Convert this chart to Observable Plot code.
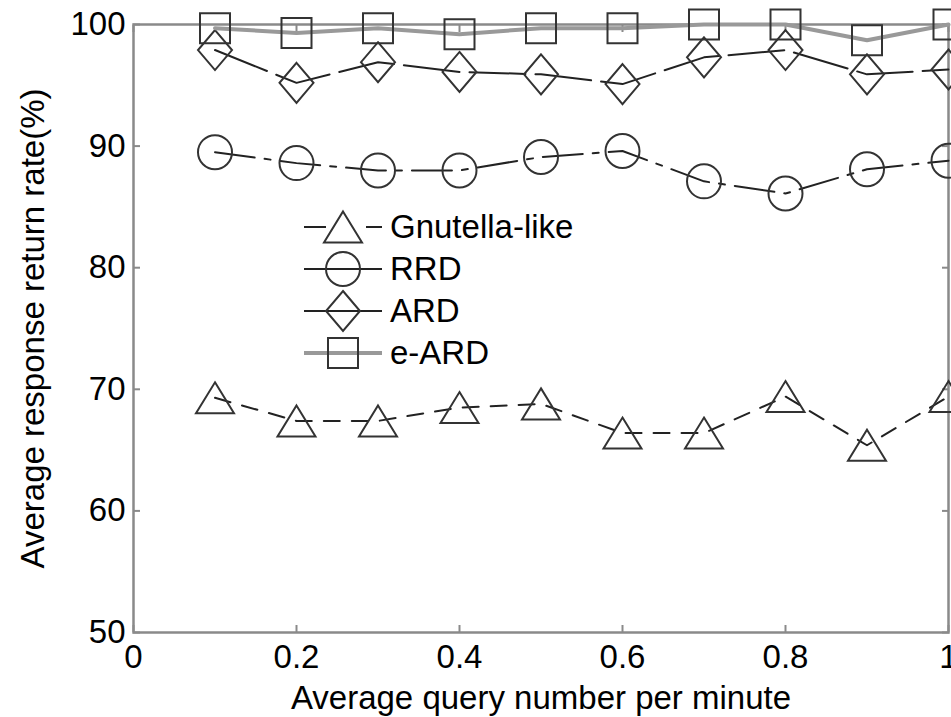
<!DOCTYPE html>
<html><head><meta charset="utf-8">
<script src="https://cdn.jsdelivr.net/npm/d3@7"></script>
<script src="https://cdn.jsdelivr.net/npm/@observablehq/plot@0.6"></script>
<style>
body{margin:0;background:#fff;}
#wrap{position:relative;width:951px;height:717px;font-family:"Liberation Sans",Arial,sans-serif;overflow:hidden;}
#legend{position:absolute;left:304px;top:206px;}
.row{display:flex;align-items:center;height:42px;font-size:33px;color:#000;}
.row svg{margin-right:8px;overflow:visible;}
</style></head><body>
<div id="wrap"><div id="chart"></div><div id="legend"></div></div>
<script>
// ---- data ----
const xValues = [0.1, 0.2, 0.3, 0.4, 0.5, 0.6, 0.7, 0.8, 0.9, 1.0];
const gnutella = [69.3, 67.4, 67.4, 68.5, 68.8, 66.4, 66.4, 69.4, 65.4, 69.4];
const rrd      = [89.5, 88.6, 88.0, 88.0, 89.1, 89.6, 87.1, 86.1, 88.1, 88.8];
const ard      = [97.9, 95.2, 96.9, 96.1, 95.9, 95.1, 97.3, 97.9, 95.9, 96.3];
const eard     = [99.7, 99.3, 99.7, 99.2, 99.7, 99.7, 100.0, 100.0, 98.7, 100.0];
const seriesNames = ["Gnutella-like", "RRD", "ARD", "e-ARD"];
const xTicks = [0, 0.2, 0.4, 0.6, 0.8, 1];
const xTickLabels = ["0", "0.2", "0.4", "0.6", "0.8", "1"];
const yTicks = [50, 60, 70, 80, 90, 100];
const xLabel = "Average query number per minute";
const yLabel = "Average response return rate(%)";

// ---- styles ----
const symTriangle = {draw(c){c.moveTo(0,-15.5);c.lineTo(19,15.5);c.lineTo(-19,15.5);c.closePath();}};
const symCircle = {draw(c){c.moveTo(17,0);c.arc(0,0,17,0,2*Math.PI);c.closePath();}};
const symDiamond = {draw(c){c.moveTo(0,-20);c.lineTo(17,0);c.lineTo(0,20);c.lineTo(-17,0);c.closePath();}};
const symSquare = {draw(c){c.moveTo(-15,-15);c.lineTo(15,-15);c.lineTo(15,15);c.lineTo(-15,15);c.closePath();}};
const styles = {
  "Gnutella-like": {stroke:"#222", lw:2, dash:"16,12", sym:symTriangle, symPath:"M0,-15.5L19,15.5L-19,15.5Z"},
  "RRD": {stroke:"#222", lw:2, dash:"40,10,6,10", sym:symCircle, symPath:"M17,0A17,17 0 1 1 -17,0A17,17 0 1 1 17,0Z"},
  "ARD": {stroke:"#222", lw:2, dash:"56,10", sym:symDiamond, symPath:"M0,-20L17,0L0,20L-17,0Z"},
  "e-ARD": {stroke:"#999", lw:4, dash:null, sym:symSquare, symPath:"M-15,-15L15,-15L15,15L-15,15Z"}
};
const valuesBy = {"Gnutella-like": gnutella, "RRD": rrd, "ARD": ard, "e-ARD": eard};
const rows = seriesNames.flatMap(s => xValues.map((x, i) => ({series: s, x, y: valuesBy[s][i]})));

const axisGray = "#8a8a8a";
const seriesMarks = seriesNames.flatMap(s => {
  const st = styles[s];
  const d = rows.filter(r => r.series === s);
  return [
    Plot.line(d, {x:"x", y:"y", stroke: st.stroke, strokeWidth: st.lw, strokeDasharray: st.dash}),
    Plot.dot(d, {x:"x", y:"y", symbol: st.sym, stroke:"#333", fill:"none", strokeWidth:2})
  ];
});

const chart = Plot.plot({
  width: 951, height: 717,
  marginLeft: 133, marginRight: 3, marginTop: 24, marginBottom: 85,
  style: {fontFamily: "'Liberation Sans', Arial, sans-serif", fontSize: "33px", background: "#fff", overflow: "visible"},
  x: {domain: [0, 1]},
  y: {domain: [50, 100]},
  marks: [
    Plot.frame({stroke: axisGray, strokeWidth: 2.5}),
    Plot.axisX(xTicks, {tickSize: 0, tickPadding: 12, tickFormat: (d, i) => xTickLabels[i], fill: "#000", fontSize: 33,
      label: xLabel, labelAnchor: "center", labelOffset: 76, labelArrow: "none"}),
    Plot.axisX(xTicks, {tickSize: -7, stroke: axisGray, strokeWidth: 2, tickFormat: () => "", label: null}),
    Plot.axisX(xTicks, {anchor: "top", tickSize: -7, stroke: axisGray, strokeWidth: 2, tickFormat: () => "", label: null}),
    Plot.axisY(yTicks, {tickSize: 0, tickPadding: 8, fill: "#000", fontSize: 33,
      label: yLabel, labelAnchor: "center", labelOffset: 113, labelArrow: "none"}),
    Plot.axisY(yTicks, {tickSize: -7, stroke: axisGray, strokeWidth: 2, tickFormat: () => "", label: null}),
    Plot.axisY(yTicks, {anchor: "right", tickSize: -7, stroke: axisGray, strokeWidth: 2, tickFormat: () => "", label: null}),
    ...seriesMarks
  ]
});
document.getElementById("chart").appendChild(chart);

// ---- legend ----
const legend = document.getElementById("legend");
seriesNames.forEach(s => {
  const st = styles[s];
  const row = document.createElement("div");
  row.className = "row";
  row.innerHTML = `<svg width="78" height="42" viewBox="0 0 78 42">
    <line x1="0" x2="78" y1="21" y2="21" stroke="${st.stroke}" stroke-width="${st.lw}" ${s==="Gnutella-like" ? 'stroke-dasharray="22,40"' : ''}/>
    <path transform="translate(39,21)" d="${st.symPath}" fill="none" stroke="#333" stroke-width="2"/>
  </svg><span>${s}</span>`;
  legend.appendChild(row);
});
</script>
</body></html>
